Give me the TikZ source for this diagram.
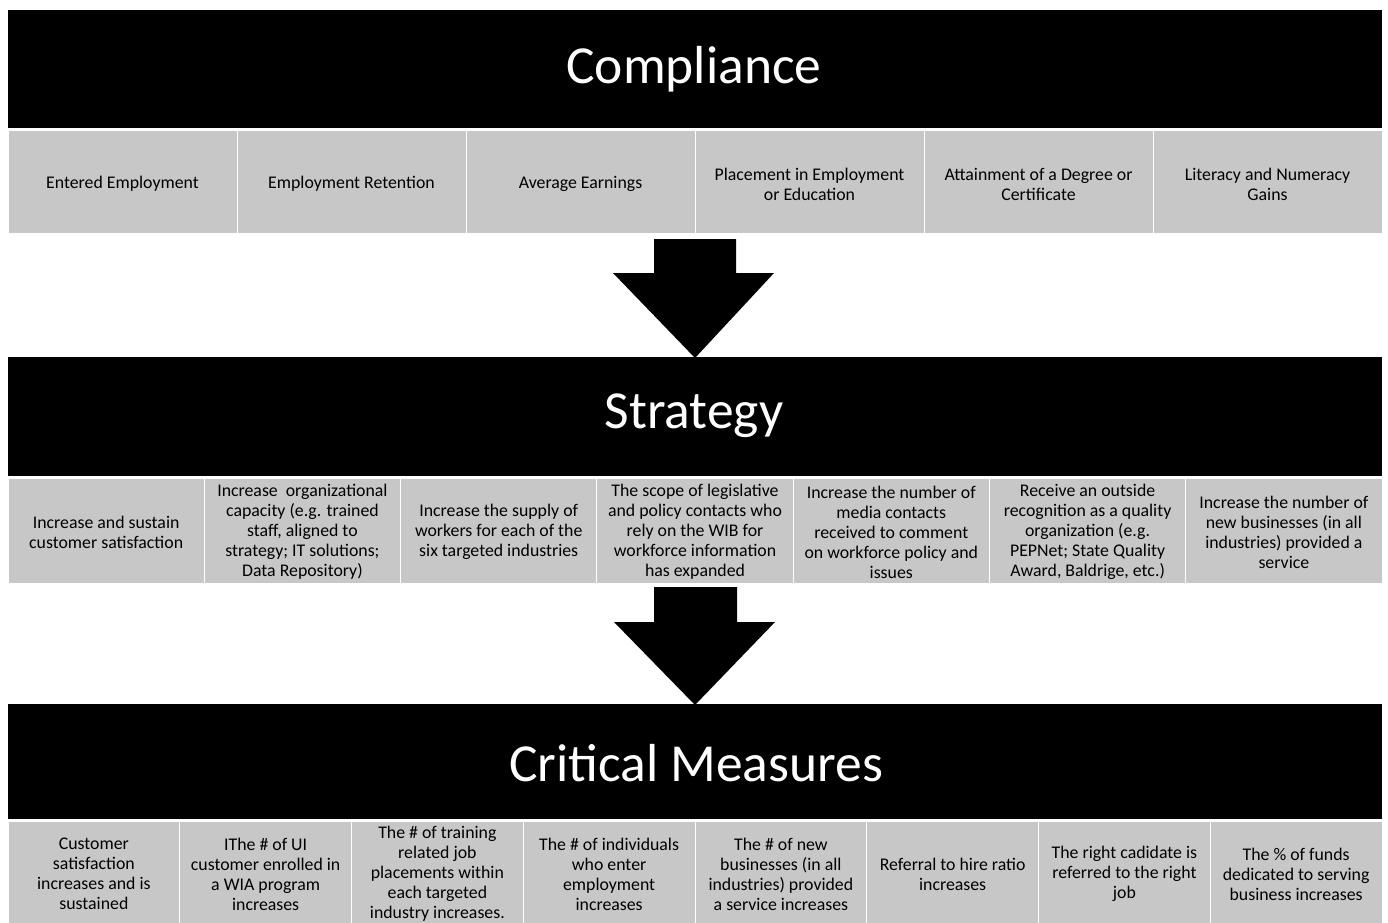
\documentclass[tikz,border=0pt]{standalone}
\usepackage{fontspec}
\setmainfont{Carlito}
\begin{document}
\begin{tikzpicture}[x=1pt,y=-1pt,
  bar/.style={fill=black,draw=none},
  ttl/.style={text=white,font=\fontsize{53.5}{60}\selectfont},
  cellbox/.style={fill=black!22,draw=white,line width=1pt},
  celltext/.style={align=center,text=black,font=\fontsize{17.8}{20}\selectfont,inner sep=0pt},
  blockarrow/.style={fill=black,draw=none}]
\useasboundingbox (0,0) rectangle (1388,922);
\fill[white] (0,0) rectangle (1388,922);
\begin{scope}
\clip (0,0) rectangle (1388,922);
% Bars
\fill[bar] (8,10) rectangle (1382,128);
\node[ttl] (compliance) at (694,69) {Compliance};
\fill[bar] (8,357) rectangle (1382,476);
\node[ttl] (strategy) at (694,416) {Strategy};
\fill[bar] (8,704) rectangle (1382,819);
\node[ttl] (critical) at (696,763) {Critical Measures};
% Compliance row
\foreach \i/\t in {0/{Entered Employment},1/{Employment Retention},2/{Average Earnings},3/{Placement in Employment\\or Education},4/{Attainment of a Degree or\\Certificate},5/{Literacy and Numeracy\\Gains}}{
  \pgfmathsetmacro{\xa}{8+\i*229}
  \pgfmathsetmacro{\xb}{8+(\i+1)*229}
  \pgfmathsetmacro{\xc}{8+(\i+0.5)*229}
  \path[cellbox] (\xa,130) rectangle (\xb,233);
  \node[celltext] (c\i) at (\xc,184) {\t};
}
% Strategy row
\foreach \i/\t in {0/{Increase and sustain\\customer satisfaction},1/{Increase\ \ organizational\\capacity (e.g. trained\\staff, aligned to\\strategy; IT solutions;\\Data Repository)},2/{Increase the supply of\\workers for each of the\\six targeted industries},3/{The scope of legislative\\and policy contacts who\\rely on the WIB for\\workforce information\\has expanded},4/{Increase the number of\\media contacts\\received to comment\\on workforce policy and\\issues},5/{Receive an outside\\recognition as a quality\\organization (e.g.\\PEPNet; State Quality\\Award, Baldrige, etc.)},6/{Increase the number of\\new businesses (in all\\industries) provided a\\service}}{
  \pgfmathsetmacro{\xa}{8+\i*196.286}
  \pgfmathsetmacro{\xb}{8+(\i+1)*196.286}
  \pgfmathsetmacro{\xc}{8+(\i+0.5)*196.286}
  \path[cellbox] (\xa,478) rectangle (\xb,583);
  \node[celltext] (s\i) at (\xc,532) {\t};
}
% Critical measures row
\foreach \i/\t in {0/{Customer\\satisfaction\\increases and is\\sustained},1/{IThe \# of UI\\customer enrolled in\\a WIA program\\increases},2/{The \# of training\\related job\\placements within\\each targeted\\industry increases.},3/{The \# of individuals\\who enter\\employment\\increases},4/{The \# of new\\businesses (in all\\industries) provided\\a service increases},5/{Referral to hire ratio\\increases},6/{The right cadidate is\\referred to the right\\job},7/{The \% of funds\\dedicated to serving\\business increases}}{
  \pgfmathsetmacro{\xa}{8+\i*171.75}
  \pgfmathsetmacro{\xb}{8+(\i+1)*171.75}
  \pgfmathsetmacro{\xc}{8+(\i+0.5)*171.75}
  \path[cellbox] (\xa,821) rectangle (\xb,930);
  \node[celltext] (m\i) at (\xc,874) {\t};
}
% Block arrows
\fill[blockarrow] (654,239) -- (736,239) -- (736,273) -- (774,273) -- (695,358) -- (613,273) -- (654,273) -- cycle;
\fill[blockarrow] (654,587) -- (737,587) -- (737,622) -- (775,622) -- (695,705) -- (614,622) -- (654,622) -- cycle;
\end{scope}
\end{tikzpicture}
\end{document}
